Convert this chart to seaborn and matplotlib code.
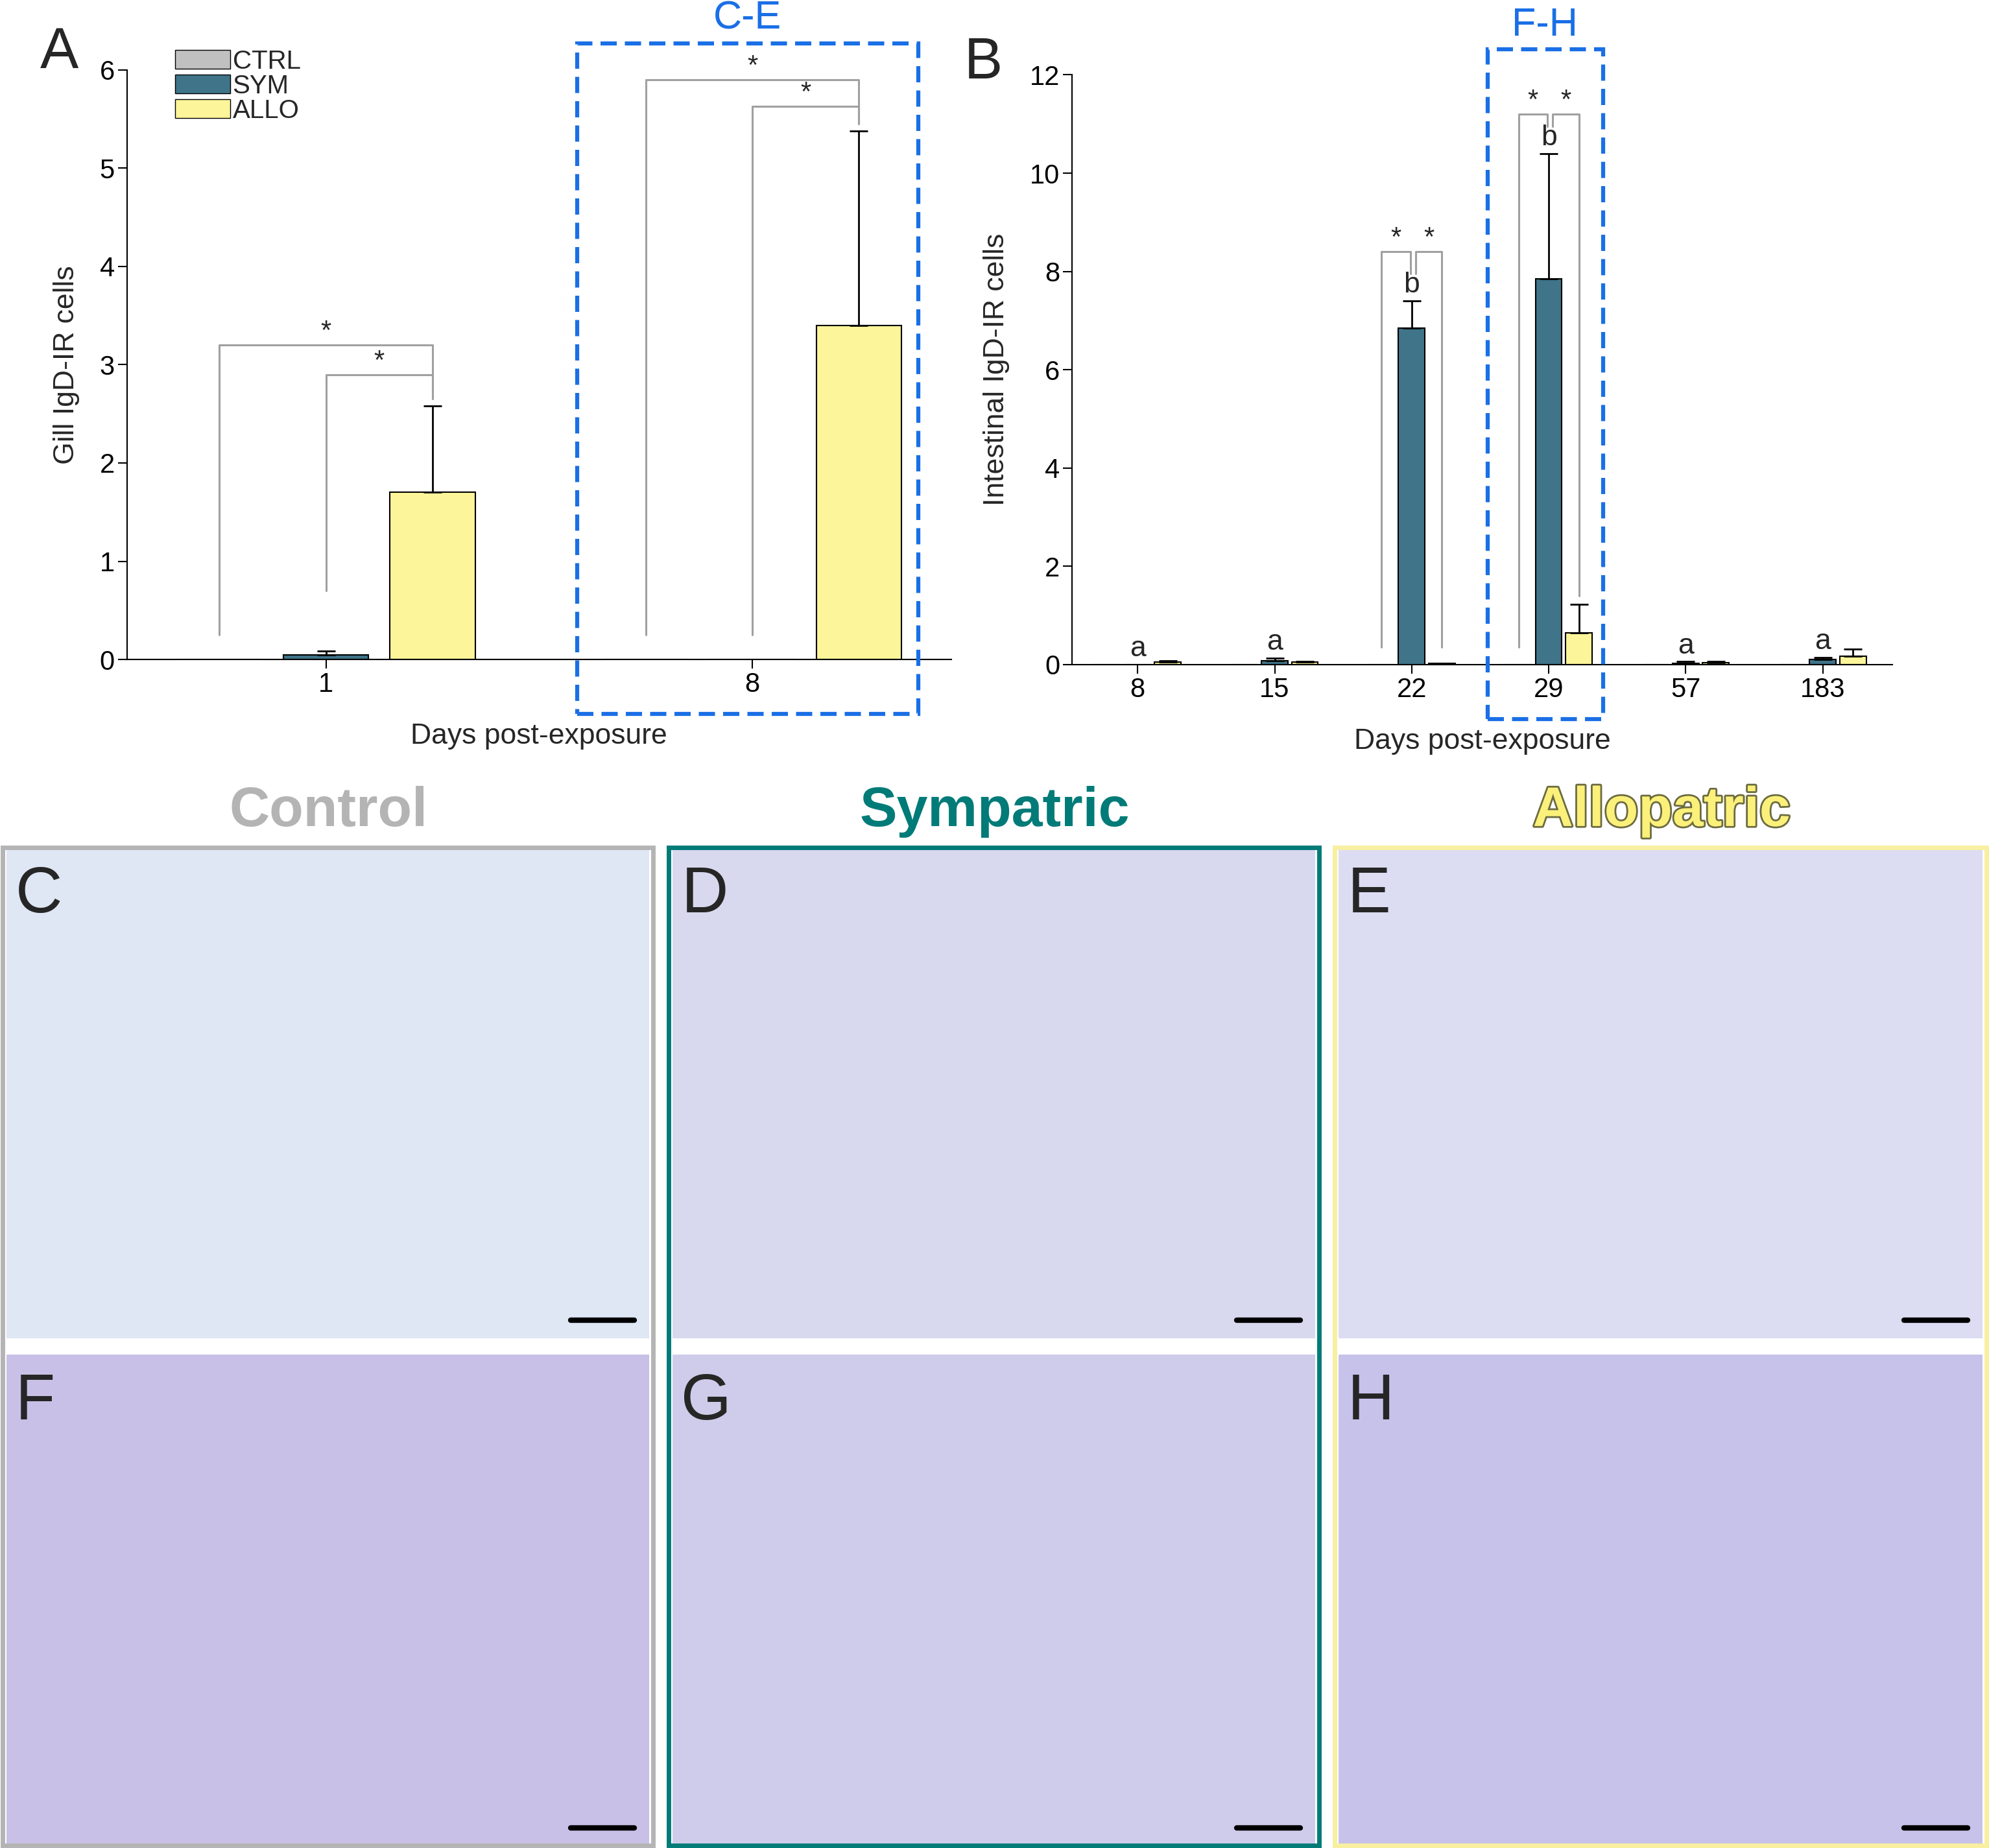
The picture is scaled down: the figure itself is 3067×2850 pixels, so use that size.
import matplotlib
matplotlib.use("Agg")
import matplotlib.pyplot as plt
import matplotlib.patheffects as pe
from matplotlib.patches import Rectangle, Patch
import seaborn as sns
import pandas as pd
import numpy as np

sns.set_style("ticks")
plt.rcParams['font.family'] = ['Arial', 'Liberation Sans', 'DejaVu Sans']

groups = ["CTRL", "SYM", "ALLO"]
colors = ["#c0c0c0", "#3f7489", "#fdf59a"]

gill_days = ["1", "8"]
gill_mean = {"CTRL": [0.0, 0.0], "SYM": [0.05, 0.0], "ALLO": [1.70, 3.40]}
gill_err = {"CTRL": [0.0, 0.0], "SYM": [0.04, 0.0], "ALLO": [0.88, 1.98]}

int_days = ["8", "15", "22", "29", "57", "183"]
int_mean = {"CTRL": [0, 0, 0, 0, 0, 0],
            "SYM": [0.0, 0.08, 6.85, 7.85, 0.03, 0.10],
            "ALLO": [0.05, 0.05, 0.03, 0.65, 0.04, 0.17]}
int_err = {"CTRL": [0, 0, 0, 0, 0, 0],
           "SYM": [0.0, 0.05, 0.55, 2.55, 0.03, 0.05],
           "ALLO": [0.03, 0.02, 0.0, 0.58, 0.02, 0.15]}
letters = {"8": "a", "15": "a", "22": "b", "29": "b", "57": "a", "183": "a"}

def frame(days, mean, err):
    rows = []
    for g in groups:
        for i, d in enumerate(days):
            rows.append({"day": d, "group": g, "mean": mean[g][i], "err": err[g][i]})
    return pd.DataFrame(rows)

W, H = 3067, 2850
fig = plt.figure(figsize=(W/100, H/100), dpi=100)

def fx(px): return px/1568.0
def fy(py): return 1 - py/1457.0

TICK = 30
LAB = 32

def barpanel(ax, df, days, width, gap, ymax, step, xlim):
    sns.barplot(data=df, x="day", y="mean", hue="group", order=days, hue_order=groups,
                palette=colors, saturation=1, width=width, gap=gap, edgecolor="black", linewidth=1.5,
                errorbar=None, legend=False, ax=ax, zorder=2)
    off = width/3
    for j, g in enumerate(groups):
        for i, d in enumerate(days):
            m = df[(df.group == g) & (df.day == d)]
            mv, ev = float(m["mean"].iloc[0]), float(m["err"].iloc[0])
            if ev > 0:
                xx = i + (j-1)*off
                ax.errorbar(xx, mv, yerr=[[0], [ev]], color="black", capsize=10, lw=2, capthick=2, zorder=3)
    ax.set_ylim(0, ymax)
    ax.set_xlim(*xlim)
    ax.set_yticks(np.arange(0, ymax+0.01, step))
    ax.tick_params(labelsize=TICK, length=10, width=1.5, colors="black")
    for s in ["left", "bottom"]:
        ax.spines[s].set_color("black")
        ax.spines[s].set_linewidth(1.5)
    sns.despine(ax=ax)
    ax.set_xlabel("Days post-exposure", fontsize=LAB, labelpad=28)
    return off

def bracket(ax, x0, x1, y0, y1, ytop, fs=30):
    ax.plot([x0, x0, x1, x1], [y0, ytop, ytop, y1], color="#a0a0a0", lw=2.2, zorder=1)
    ax.text((x0+x1)/2, ytop, "*", ha="center", va="bottom", fontsize=fs)

# Panel A
axA = fig.add_axes([fx(100), fy(520), fx(750)-fx(100), fy(55)-fy(520)])
dfA = frame(gill_days, gill_mean, gill_err)
off = barpanel(axA, dfA, gill_days, 0.75, 0.2, 6, 1, (-0.467, 1.467))
axA.set_ylabel("Gill IgD-IR cells", fontsize=LAB, labelpad=22)
bracket(axA, -off, off, 0.25, 2.65, 3.2)
bracket(axA, 0, off, 0.7, 2.65, 2.9)
bracket(axA, 1-off, 1+off, 0.25, 5.45, 5.9)
bracket(axA, 1, 1+off, 0.25, 5.45, 5.63)
hA = [Patch(facecolor=c, edgecolor="black", label=g) for g, c in zip(groups, colors)]
axA.legend(handles=hA, loc="upper left", bbox_to_anchor=(0.03, 1.075), frameon=False,
           fontsize=29, handlelength=2.1, handleheight=0.7, handletextpad=0.1, labelspacing=0.0)

# Panel B
axB = fig.add_axes([fx(845), fy(524), fx(1492)-fx(845), fy(59)-fy(524)])
dfB = frame(int_days, int_mean, int_err)
offB = barpanel(axB, dfB, int_days, 0.66, 0.12, 12, 2, (-0.48, 5.51))
axB.set_ylabel("Intestinal IgD-IR cells", fontsize=LAB, labelpad=22)
for i, d in enumerate(int_days):
    top = int_mean["SYM"][i] + int_err["SYM"][i]
    axB.text(i, top + 0.05, letters[d], ha="center", va="bottom", fontsize=LAB)
bracket(axB, -offB+2, 1.99, 0.35, 7.95, 8.4)
bracket(axB, 2.03, 2+offB, 7.95, 0.35, 8.4)
bracket(axB, -offB+3, 2.99, 0.35, 10.95, 11.2)
bracket(axB, 3.03, 3+offB, 10.95, 1.4, 11.2)

for x, y, t in [(47, 42, "A"), (775, 50, "B")]:
    fig.text(fx(x), fy(y), t, fontsize=64, ha="center", va="center")

blue = "#1a6fe6"
for (x0, y0, x1, y1, lab, lx, ly) in [(455, 34, 724, 563, "C-E", 589, 15), (1173, 39, 1264, 567, "F-H", 1218, 20)]:
    fig.add_artist(Rectangle((fx(x0), fy(y1)), fx(x1)-fx(x0), fy(y0)-fy(y1), transform=fig.transFigure,
                             fill=False, ec=blue, lw=4.5, ls=(0, (4, 2))))
    fig.text(fx(lx), fy(ly), lab, color=blue, fontsize=44, ha="center", va="center")

fig.text(fx(259), fy(640), "Control", color="#b4b4b4", fontsize=62, weight="bold", ha="center", va="center")
fig.text(fx(784), fy(640), "Sympatric", color="#007b78", fontsize=62, weight="bold", ha="center", va="center")
fig.text(fx(1310), fy(640), "Allopatric", color="#fbf07a", fontsize=62, weight="bold", ha="center", va="center",
         path_effects=[pe.withStroke(linewidth=4, foreground="#6b6b40")])

cols = [(2, 515, "#b4b4b4"), (527, 1040, "#007b78"), (1052, 1566, "#f8f0a0")]
rows = [(668, 1055), (1068, 1455)]
labs = [["C", "D", "E"], ["F", "G", "H"]]
fills = [["#dfe6f4", "#d8d8ee", "#dcdcf2"], ["#c8c0e6", "#cfcbea", "#c7c2ea"]]
for ci, (x0, x1, ec) in enumerate(cols):
    fig.add_artist(Rectangle((fx(x0), fy(1455)), fx(x1)-fx(x0), fy(668)-fy(1455), transform=fig.transFigure,
                             fill=False, ec=ec, lw=5, zorder=5))
    for ri, (y0, y1) in enumerate(rows):
        fig.add_artist(Rectangle((fx(x0+3), fy(y1)), fx(x1-3)-fx(x0+3), fy(y0)-fy(y1), transform=fig.transFigure,
                                 fc=fills[ri][ci], ec="none"))
        fig.text(fx(x0+10), fy(y0+38), labs[ri][ci], fontsize=72, ha="left", va="center")
        fig.add_artist(plt.Line2D([fx(x1-65), fx(x1-15)], [fy(y1-14)]*2, transform=fig.transFigure, color="black", lw=6))

fig.savefig("out.png", dpi=100)
